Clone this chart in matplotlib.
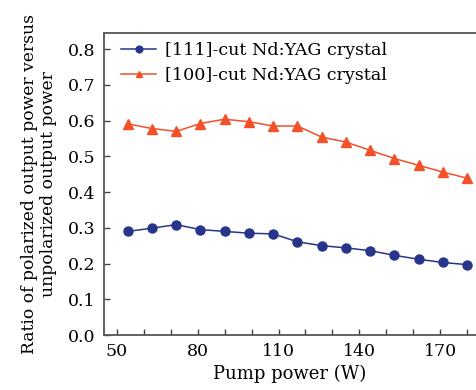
import matplotlib.pyplot as plt
import numpy as np

pump_power = [54, 63, 72, 81, 90, 99, 108, 117, 126, 135, 144, 153, 162, 171, 180]
ratio_111 = [0.290, 0.299, 0.309, 0.295, 0.290, 0.285, 0.283, 0.261, 0.250, 0.244,
             0.236, 0.223, 0.212, 0.203, 0.197]
ratio_100 = [0.591, 0.578, 0.570, 0.592, 0.604, 0.597, 0.585, 0.585, 0.554, 0.540,
             0.517, 0.494, 0.475, 0.456, 0.439]
x_ticks = [50, 80, 110, 140, 170]
y_ticks = [0.0, 0.1, 0.2, 0.3, 0.4, 0.5, 0.6, 0.7, 0.8]

plt.rcParams['font.family'] = ['DejaVu Serif']

fig = plt.figure(figsize=(4.76, 3.90), dpi=100)
ax = fig.add_axes([0.2185, 0.141, 0.7815, 0.775])

ax.plot(pump_power, ratio_111, color='#27358a', marker='o', markersize=6.5,
        linewidth=1.1, label='[111]-cut Nd:YAG crystal')
ax.plot(pump_power, ratio_100, color='#f4512a', marker='^', markersize=6.5,
        linewidth=1.1, label='[100]-cut Nd:YAG crystal')

ax.set_xlim(45.2, 183.3)
ax.set_ylim(0, 0.846)
ax.set_xticks(x_ticks)
ax.set_xticks(np.arange(60, 181, 10), minor=True)
ax.set_yticks(y_ticks)
ax.set_yticklabels([f'{v:.1f}' for v in y_ticks])

ax.tick_params(direction='in', labelsize=12.5, length=4, width=1, color='#444444')
ax.tick_params(axis='x', pad=6)
ax.tick_params(axis='y', pad=6)
ax.tick_params(which='minor', direction='in', length=4, width=1, color='#444444')
ax.tick_params(top=False, right=False)
ax.spines['right'].set_visible(False)
for s in ['left', 'bottom', 'top']:
    ax.spines[s].set_color('#555555')
    ax.spines[s].set_linewidth(1.3)

ax.set_xlabel('Pump power (W)', fontsize=13, labelpad=3)
ax.set_ylabel('Ratio of polarized output power versus\nunpolarized output power',
              fontsize=12.3, labelpad=8, linespacing=1.15)

ax.legend(loc='upper left', frameon=False, fontsize=12.6, handlelength=2.0,
          borderaxespad=0.15, labelspacing=0.45, handletextpad=0.5,
          bbox_to_anchor=(0.02, 1.0), markerscale=0.75)

fig.savefig('out.png', dpi=100)
